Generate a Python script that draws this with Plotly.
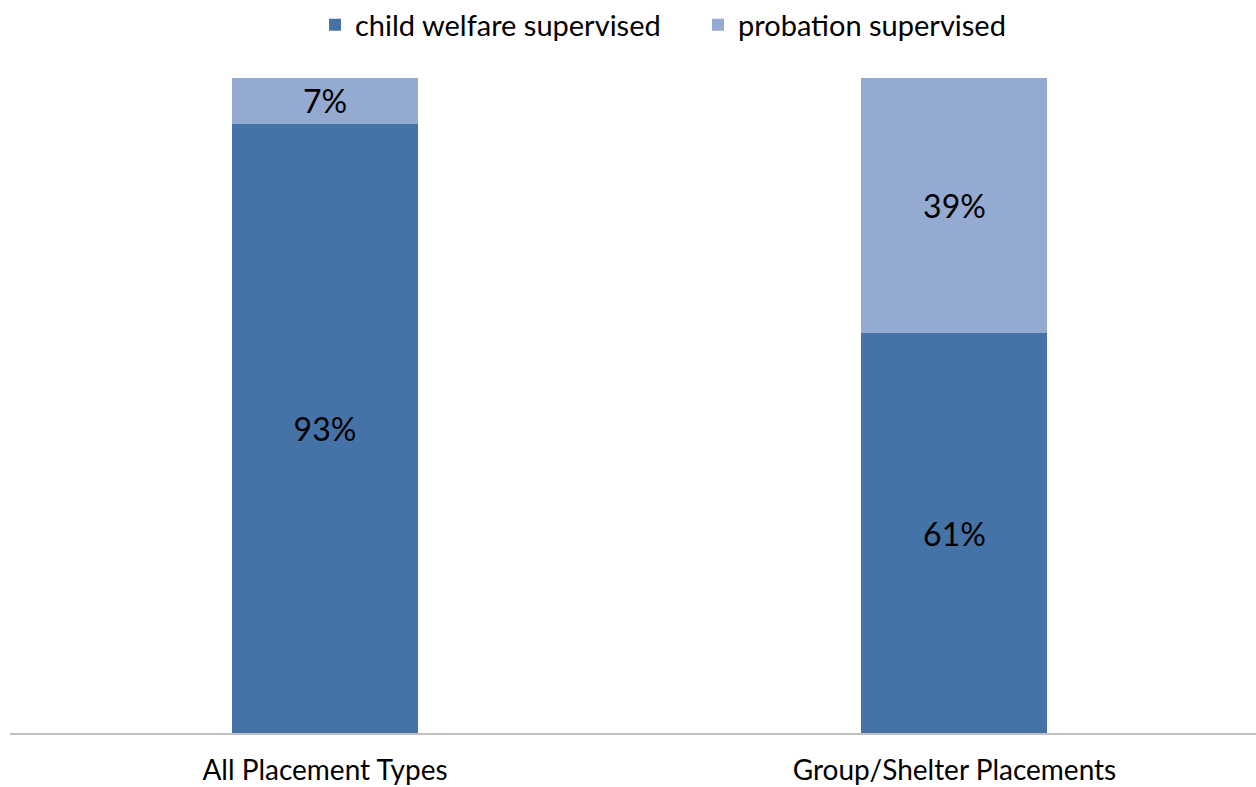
import plotly.graph_objects as go

categories = ["All Placement Types", "Group/Shelter Placements"]
child_welfare = [93, 61]
probation = [7, 39]
series_names = ["child welfare supervised", "probation supervised"]
colors = ["#4573A7", "#95AAD1"]

FONT = "Lato"

fig = go.Figure()
for name, vals, col in zip(series_names, [child_welfare, probation], colors):
    fig.add_trace(go.Bar(
        name=name,
        x=list(range(len(categories))),
        y=vals,
        width=0.2955,
        marker=dict(color=col, line=dict(width=0)),
        text=[f"{v}%" for v in vals],
        textposition="inside",
        insidetextanchor="middle",
        textfont=dict(family=FONT, size=32, color="#000000"),
        hoverinfo="skip",
    ))

fig.update_layout(
    barmode="stack",
    width=1256, height=787,
    margin=dict(l=10, r=0, t=78, b=54, autoexpand=False),
    paper_bgcolor="white", plot_bgcolor="white",
    font=dict(family=FONT, color="#000000"),
    showlegend=True,
    legend=dict(orientation="h", xref="container", yref="container",
                x=315 / 1256, xanchor="left", y=1 - 25 / 787, yanchor="middle",
                font=dict(family=FONT, size=29, color="#000000"),
                traceorder="normal", itemwidth=30, entrywidth=338, entrywidthmode="pixels",
                itemclick=False),
    uniformtext=dict(mode=False),
)
fig.update_xaxes(
    range=[-0.5004, 1.479], automargin=False,
    tickmode="array", tickvals=list(range(len(categories))), ticktext=categories,
    tickfont=dict(family=FONT, size=28, color="#000000"),
    showline=True, linecolor="#BFBFBF", linewidth=1.5,
    showgrid=False, zeroline=False, ticks="", ticklabelstandoff=12,
)
fig.update_yaxes(range=[0, 100], visible=False, showgrid=False, zeroline=False, automargin=False)

fig.write_html("out.html", config={"displayModeBar": False},
               post_script="document.body.style.margin='0';document.body.style.overflow='hidden';")
